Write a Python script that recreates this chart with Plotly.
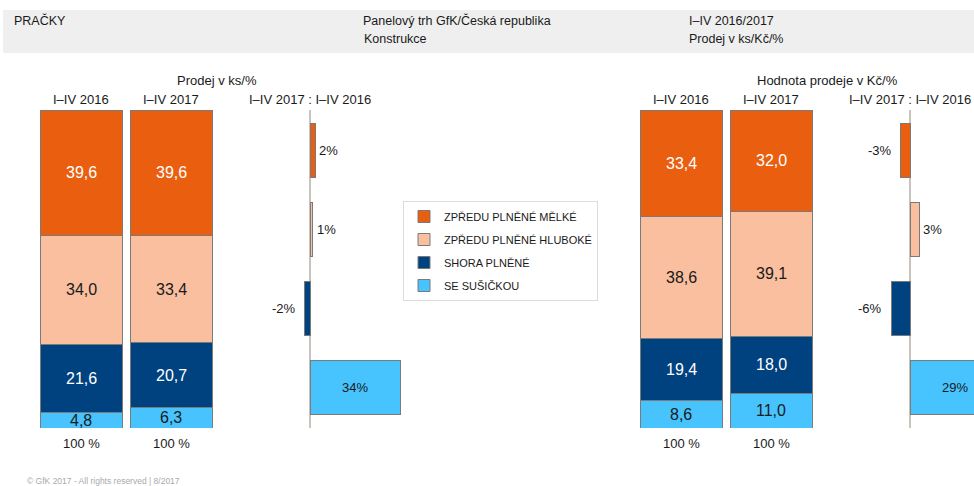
import plotly.graph_objects as go

W, H = 974, 486

categories = ["ZPŘEDU PLNĚNÉ MĚLKÉ", "ZPŘEDU PLNĚNÉ HLUBOKÉ", "SHORA PLNĚNÉ", "SE SUŠIČKOU"]
periods = ["I–IV 2016", "I–IV 2017"]
units_2016 = [39.6, 34.0, 21.6, 4.8]
units_2017 = [39.6, 33.4, 20.7, 6.3]
value_2016 = [33.4, 38.6, 19.4, 8.6]
value_2017 = [32.0, 39.1, 18.0, 11.0]
units_change = [2, 1, -2, 34]
value_change = [-3, 3, -6, 29]
total_labels = ["100 %", "100 %"]
change_title = "I–IV 2017 : I–IV 2016"

colors = ["#E95E0F", "#F9BF9F", "#00417F", "#47C3FE"]
label_colors = ["#ffffff", "#1a1a1a", "#ffffff", "#1a1a1a"]
OUTLINE = "#7a7a7a"
TEXT = "#1a1a1a"
FONT = "Liberation Sans, Arial, sans-serif"


def px(x):
    return x / W


def py(y):
    return 1 - y / H


fig = go.Figure()

# stacked share bars (y axis reversed so the first category sits on top)
for panel, (a, b) in enumerate([(units_2016, units_2017), (value_2016, value_2017)]):
    xa = "x" if panel == 0 else "x2"
    ya = "y" if panel == 0 else "y2"
    for i, cat in enumerate(categories):
        fig.add_trace(go.Bar(
            x=[0, 1], y=[a[i], b[i]], name=cat, xaxis=xa, yaxis=ya,
            width=82 / 90, marker=dict(color=colors[i], line=dict(color=OUTLINE, width=1)),
            showlegend=(panel == 0), legendgroup=cat, hoverinfo="skip",
        ))
    # value labels at segment midpoints
    for j, series in enumerate([a, b]):
        cum = 0
        for i, v in enumerate(series):
            mid = cum + v / 2
            cum += v
            fig.add_annotation(x=j, y=mid, xref=xa, yref=ya, text=f"{v:.1f}".replace(".", ","),
                               showarrow=False, xanchor="center", yanchor="middle",
                               font=dict(size=16, color=label_colors[i], family=FONT))
    for j in range(2):
        fig.add_annotation(x=j, y=py(100), xref=xa, yref="paper", text=periods[j], showarrow=False,
                           font=dict(size=13, color=TEXT, family=FONT), xanchor="center", yanchor="middle")
        fig.add_annotation(x=j, y=py(443), xref=xa, yref="paper", text=total_labels[j], showarrow=False,
                           font=dict(size=13, color=TEXT, family=FONT), xanchor="center", yanchor="middle")

# change bars
for panel, (vals, scale) in enumerate([(units_change, 2.65), (value_change, 3.1)]):
    xa = "x3" if panel == 0 else "x4"
    ya = "y3" if panel == 0 else "y4"
    fig.add_trace(go.Bar(
        x=vals, y=[0, 1, 2, 3], orientation="h", xaxis=xa, yaxis=ya, width=0.684,
        marker=dict(color=colors, line=dict(color=OUTLINE, width=1)),
        showlegend=False, hoverinfo="skip",
    ))
    for i, v in enumerate(vals):
        t = f"{v}%"
        if abs(v) * scale > 40:
            fig.add_annotation(x=v / 2, y=i, xref=xa, yref=ya, text=t, showarrow=False,
                               xanchor="center", yanchor="middle",
                               font=dict(size=13, color=TEXT, family=FONT))
        elif v >= 0:
            fig.add_annotation(x=v, y=i, xref=xa, yref=ya, text=t, showarrow=False, xanchor="left",
                               yanchor="middle", xshift=2, font=dict(size=13, color=TEXT, family=FONT))
        else:
            fig.add_annotation(x=v, y=i, xref=xa, yref=ya, text=t, showarrow=False, xanchor="right",
                               yanchor="middle", xshift=-7, font=dict(size=13, color=TEXT, family=FONT))
    fig.add_annotation(x=0, y=py(100), xref=xa, yref="paper", text=change_title, showarrow=False,
                       font=dict(size=13, color=TEXT, family=FONT), xanchor="center", yanchor="middle")

# panel titles
fig.add_annotation(x=px(217), y=py(81), xref="paper", yref="paper", text="Prodej v ks/%", showarrow=False,
                   xanchor="center", yanchor="middle", font=dict(size=13, color=TEXT, family=FONT))
fig.add_annotation(x=px(827), y=py(81), xref="paper", yref="paper", text="Hodnota prodeje v Kč/%",
                   showarrow=False, xanchor="center", yanchor="middle",
                   font=dict(size=13, color=TEXT, family=FONT))

# header band
fig.add_shape(type="rect", xref="paper", yref="paper", x0=px(3), x1=1, y0=py(53), y1=py(10),
              fillcolor="#efefef", line=dict(width=0), layer="below")
for txt, x, y in [("PRAČKY", 12, 21), ("Panelový trh GfK/Česká republika", 361, 21), ("Konstrukce", 362, 39),
                  ("I–IV 2016/2017", 687, 21), ("Prodej v ks/Kč/%", 687, 39)]:
    fig.add_annotation(x=px(x), y=py(y), xref="paper", yref="paper", text=txt, showarrow=False,
                       xanchor="left", yanchor="middle", font=dict(size=12.5, color=TEXT, family=FONT))

# footer
fig.add_annotation(x=px(25), y=py(481), xref="paper", yref="paper", text="© GfK 2017 - All rights reserved | 8/2017",
                   showarrow=False, xanchor="left", yanchor="middle",
                   font=dict(size=8.5, color="#aaaaaa", family=FONT))

ydom = [py(428), py(110)]
hidden = dict(visible=False, fixedrange=True)
fig.update_layout(
    width=W, height=H, margin=dict(l=0, r=0, t=0, b=0),
    paper_bgcolor="white", plot_bgcolor="rgba(0,0,0,0)",
    barmode="stack", font=dict(family=FONT, color=TEXT),
    xaxis=dict(domain=[px(36), px(216)], range=[-0.5, 1.5], **hidden),
    yaxis=dict(domain=ydom, range=[100, 0], **hidden),
    xaxis2=dict(domain=[px(636), px(816)], range=[-0.5, 1.5], **hidden),
    yaxis2=dict(domain=ydom, range=[100, 0], **hidden),
    xaxis3=dict(domain=[px(230), px(420)], range=[-80 / 2.65, 110 / 2.65], showgrid=False,
                showticklabels=False, ticks="", zeroline=True, zerolinecolor="#cbc4bd", zerolinewidth=2,
                fixedrange=True),
    yaxis3=dict(domain=ydom, range=[3.5125, -0.5125], **hidden),
    xaxis4=dict(domain=[px(830), 1], range=[-80 / 3.1, 64 / 3.1], showgrid=False,
                showticklabels=False, ticks="", zeroline=True, zerolinecolor="#cbc4bd", zerolinewidth=2,
                fixedrange=True),
    yaxis4=dict(domain=ydom, range=[3.5125, -0.5125], **hidden),
    legend=dict(x=px(403), y=py(201), xanchor="left", yanchor="top", bgcolor="white",
                bordercolor="#dcdcdc", borderwidth=1, font=dict(size=11, color=TEXT, family=FONT),
                tracegroupgap=4, traceorder="grouped"),
    showlegend=True,
)

fig.write_html("out.html")
